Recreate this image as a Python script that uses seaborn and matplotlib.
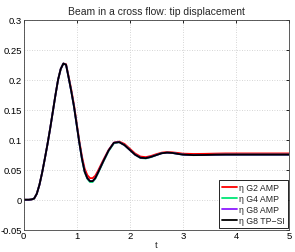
import numpy as np
import pandas as pd
import seaborn as sns
import matplotlib
matplotlib.use("Agg")
import matplotlib.pyplot as plt

# time samples and tip displacement
t = [0, 0.1, 0.15, 0.2, 0.25, 0.3, 0.35, 0.4, 0.45, 0.5, 0.55, 0.6, 0.65, 0.7,
     0.75, 0.8, 0.85, 0.9, 0.95, 1.0, 1.05, 1.1, 1.15, 1.2, 1.25, 1.3, 1.35,
     1.4, 1.5, 1.6, 1.7, 1.8, 1.9, 2.0, 2.1, 2.2, 2.3, 2.4, 2.5, 2.6, 2.7,
     2.8, 2.9, 3.0, 3.2, 3.4, 3.6, 3.8, 4.0, 4.5, 5.0]

g8_tpsi = [0, 0, 0.0005, 0.002, 0.01, 0.025, 0.045, 0.068, 0.092, 0.118,
           0.146, 0.174, 0.2, 0.218, 0.227, 0.225, 0.203, 0.18, 0.155, 0.125,
           0.095, 0.068, 0.047, 0.036, 0.031, 0.031, 0.036, 0.045, 0.064,
           0.082, 0.095, 0.096, 0.091, 0.083, 0.075, 0.070, 0.0693, 0.0715,
           0.0745, 0.0775, 0.0785, 0.078, 0.0765, 0.0752, 0.0744, 0.0746,
           0.075, 0.0752, 0.0752, 0.0752, 0.0752]

g8_amp = [0, 0, 0.0005, 0.002, 0.01, 0.025, 0.045, 0.068, 0.092, 0.118,
          0.146, 0.174, 0.2, 0.218, 0.227, 0.225, 0.203, 0.18, 0.155, 0.125,
          0.095, 0.068, 0.047, 0.036, 0.031, 0.031, 0.036, 0.045, 0.064,
          0.082, 0.095, 0.096, 0.091, 0.083, 0.075, 0.070, 0.0693, 0.0715,
          0.0745, 0.0775, 0.0785, 0.078, 0.0765, 0.0752, 0.0744, 0.0746,
          0.075, 0.0752, 0.0752, 0.0752, 0.0752]

g4_amp = [0, 0, 0.0005, 0.002, 0.01, 0.025, 0.045, 0.068, 0.092, 0.118,
          0.146, 0.174, 0.2, 0.218, 0.227, 0.225, 0.203, 0.18, 0.155, 0.125,
          0.095, 0.067, 0.046, 0.035, 0.0295, 0.0295, 0.035, 0.044, 0.063,
          0.081, 0.094, 0.096, 0.091, 0.083, 0.075, 0.0695, 0.0688, 0.071,
          0.0745, 0.0775, 0.0785, 0.078, 0.0764, 0.0751, 0.0743, 0.0746,
          0.075, 0.0752, 0.0752, 0.0752, 0.0752]

g2_amp = [0, 0, 0.0005, 0.002, 0.01, 0.025, 0.045, 0.068, 0.092, 0.118,
          0.146, 0.174, 0.2, 0.218, 0.227, 0.226, 0.205, 0.183, 0.158, 0.128,
          0.098, 0.072, 0.052, 0.041, 0.036, 0.036, 0.040, 0.048, 0.066,
          0.083, 0.095, 0.097, 0.093, 0.085, 0.077, 0.072, 0.071, 0.073,
          0.076, 0.0785, 0.0795, 0.079, 0.078, 0.0768, 0.0763, 0.0765,
          0.0769, 0.0772, 0.0772, 0.0772, 0.0772]

labels = ["η G2 AMP", "η G4 AMP", "η G8 AMP", "η G8 TP−SI"]
colors = ["#ff0000", "#00e676", "#8c1aff", "#000000"]

yticks = [-0.05, 0, 0.05, 0.1, 0.15, 0.2, 0.25, 0.3]
ytick_labels = ["-0.05", "0", "0.05", "0.1", "0.15", "0.2", "0.25", "0.3"]
xticks = [0, 1, 2, 3, 4, 5]

df = pd.DataFrame({"t": t * 4,
                   "eta": g2_amp + g4_amp + g8_amp + g8_tpsi,
                   "series": np.repeat(labels, len(t))})

sns.set_style("white")
plt.rcParams["font.family"] = ["Liberation Sans", "DejaVu Sans"]

fig = plt.figure(figsize=(2.95, 2.53), dpi=100)
ax = fig.add_axes([0.0797, 0.088, 0.901, 0.83])

sns.lineplot(data=df, x="t", y="eta", hue="series", hue_order=labels,
             palette=colors, linewidth=1.3, ax=ax, sort=False)

ax.set_xlim(0, 5)
ax.set_ylim(-0.05, 0.3)
ax.set_xticks(xticks)
ax.set_xticklabels([str(x) for x in xticks])
ax.set_yticks(yticks)
ax.set_yticklabels(ytick_labels)
ax.grid(True, linestyle=(0, (1, 2)), color="#c8c8c8", linewidth=0.6)
ax.tick_params(direction="in", length=2.5, width=0.6, labelsize=6.8,
               top=True, right=True, pad=1.2, colors="black")
for s in ax.spines.values():
    s.set_color("#404040")
    s.set_linewidth(0.6)

ax.set_title("Beam in a cross flow: tip displacement", fontsize=7.5, pad=4)
ax.set_xlabel("t", fontsize=6.8, labelpad=0)
ax.set_ylabel("")

leg = ax.legend(loc="lower right", fontsize=6.3, handlelength=1.8,
                handletextpad=0.2, borderpad=0.3, labelspacing=0.25,
                borderaxespad=0.2, fancybox=False, framealpha=1)
leg.get_frame().set_edgecolor("black")
leg.get_frame().set_linewidth(0.6)

fig.savefig("out.png", dpi=100)
